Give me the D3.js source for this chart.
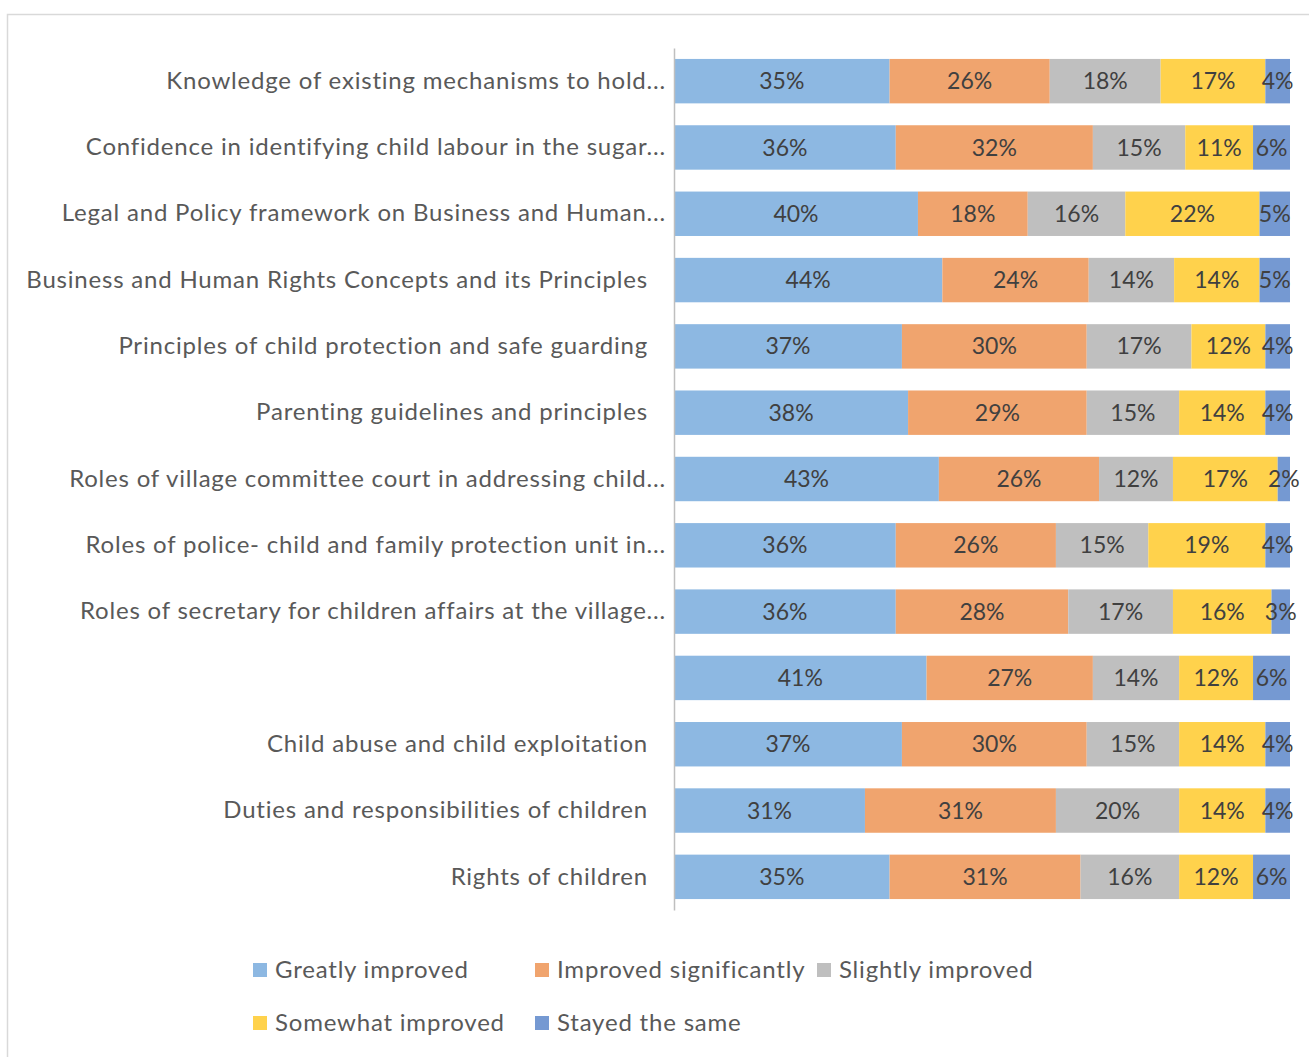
<!DOCTYPE html>
<html>
<head>
<meta charset="utf-8">
<script src="https://cdn.jsdelivr.net/npm/d3@7"></script>
<style>
  body { margin: 0; background: #fff; }
  text { font-family: Lato, "Open Sans", sans-serif; }
</style>
</head>
<body>
<div id="chart"></div>
<script>
// Topics (top to bottom)
var topics = [
  "Knowledge of existing mechanisms to hold...",
  "Confidence in identifying child labour in the sugar...",
  "Legal and Policy framework on Business and Human...",
  "Business and Human Rights Concepts and its Principles",
  "Principles of child protection and safe guarding",
  "Parenting guidelines and principles",
  "Roles of village committee court in addressing child...",
  "Roles of police- child and family protection unit in...",
  "Roles of secretary for children affairs at the village...",
  "",
  "Child abuse and child exploitation",
  "Duties and responsibilities of children",
  "Rights of children"
];

var seriesNames = ["Greatly improved", "Improved significantly", "Slightly improved", "Somewhat improved", "Stayed the same"];

var greatly     = [35, 36, 40, 44, 37, 38, 43, 36, 36, 41, 37, 31, 35];
var significant = [26, 32, 18, 24, 30, 29, 26, 26, 28, 27, 30, 31, 31];
var slightly    = [18, 15, 16, 14, 17, 15, 12, 15, 17, 14, 15, 20, 16];
var somewhat    = [17, 11, 22, 14, 12, 14, 17, 19, 16, 12, 14, 14, 12];
var same        = [ 4,  6,  5,  5,  4,  4,  2,  4,  3,  6,  4,  4,  6];

var colors = ["#8db8e2", "#f0a46e", "#bfbfbf", "#ffd24c", "#7599d2"];

// build rows for d3.stack
var seriesData = [greatly, significant, slightly, somewhat, same];
var rows = topics.map(function(t, i) {
  var r = { key: "row" + i, label: t };
  seriesNames.forEach(function(s, j) { r[s] = seriesData[j][i]; });
  return r;
});

var width = 1309, height = 1057;
var margin = { top: 48, left: 674, right: 19, bottom: 147 };
var plotW = width - margin.left - margin.right;
var plotH = height - margin.top - margin.bottom;

var svg = d3.select("#chart").append("svg")
  .attr("width", width)
  .attr("height", height);

// chart frame
svg.append("path")
  .attr("d", "M7.5," + height + "V14.5H" + width)
  .attr("fill", "none")
  .attr("stroke", "#d9d9d9")
  .attr("stroke-width", 1.5);

var plot = svg.append("g")
  .attr("transform", "translate(" + margin.left + "," + margin.top + ")");

var xScale = d3.scaleLinear().domain([0, 1]).range([0, plotW]);
var yScale = d3.scaleBand()
  .domain(rows.map(function(d) { return d.key; }))
  .range([0, plotH])
  .paddingInner(0.33)
  .paddingOuter(0.165);

var stack = d3.stack().keys(seriesNames).offset(d3.stackOffsetExpand);
var stacked = stack(rows);

var layers = plot.selectAll(".layer")
  .data(stacked).enter()
  .append("g")
  .attr("class", "layer")
  .attr("fill", function(d, i) { return colors[i]; });

layers.selectAll("rect")
  .data(function(d) { return d; }).enter()
  .append("rect")
  .attr("x", function(d) { return xScale(d[0]); })
  .attr("y", function(d) { return yScale(d.data.key); })
  .attr("width", function(d) { return xScale(d[1]) - xScale(d[0]); })
  .attr("height", yScale.bandwidth());

// value labels
layers.each(function(layer) {
  d3.select(this).selectAll("text")
    .data(layer).enter()
    .append("text")
    .attr("x", function(d) { return (xScale(d[0]) + xScale(d[1])) / 2; })
    .attr("y", function(d) { return yScale(d.data.key) + yScale.bandwidth() / 2; })
    .attr("dy", "0.35em")
    .attr("text-anchor", "middle")
    .attr("fill", "#404040")
    .attr("font-size", 23)
    .text(function(d) { return d.data[layer.key] + "%"; });
});

// category axis
var yAxis = d3.axisLeft(yScale)
  .tickSize(0)
  .tickSizeOuter(0)
  .tickFormat(function(k) { return rows[+k.slice(3)].label; });

var yAx = plot.append("g").call(yAxis);
yAx.select(".domain").attr("stroke", "#bfbfbf").attr("stroke-width", 1.5);
yAx.selectAll(".tick text")
  .attr("x", function(k) { return /\.\.\.$/.test(rows[+k.slice(3)].label) ? -8 : -26; })
  .attr("fill", "#595959")
  .attr("font-size", 24)
  .style("letter-spacing", "0.8px")
  .style("font-family", "Lato, 'Open Sans', sans-serif");

// legend
var legendPos = [[253, 970], [535, 970], [817, 970], [253, 1023], [535, 1023]];
var legend = svg.selectAll(".legend")
  .data(seriesNames).enter()
  .append("g")
  .attr("class", "legend")
  .attr("transform", function(d, i) { return "translate(" + legendPos[i][0] + "," + legendPos[i][1] + ")"; });
legend.append("rect")
  .attr("x", 0).attr("y", -7)
  .attr("width", 14).attr("height", 14)
  .attr("fill", function(d, i) { return colors[i]; });
legend.append("text")
  .attr("x", 22).attr("dy", "0.35em")
  .attr("fill", "#595959")
  .attr("font-size", 24)
  .style("letter-spacing", "0.8px")
  .text(function(d) { return d; });
</script>
</body>
</html>
